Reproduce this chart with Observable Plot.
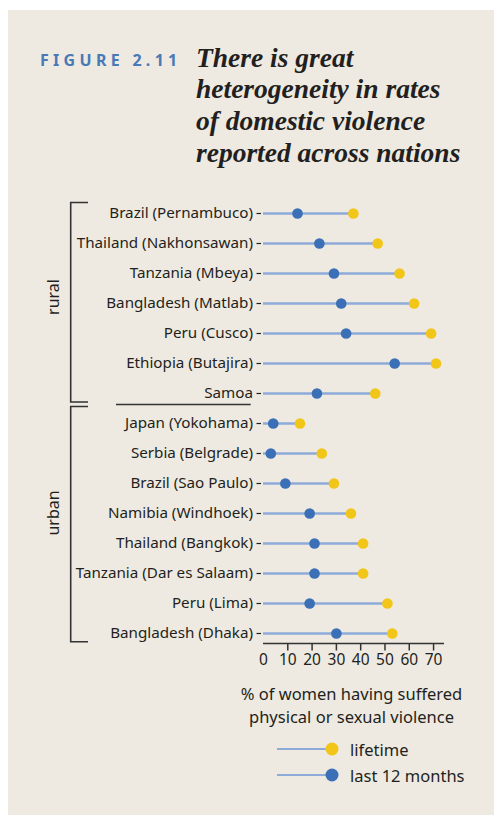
<!DOCTYPE html>
<html>
<head>
<meta charset="utf-8">
<script src="https://cdn.jsdelivr.net/npm/d3@7"></script>
<script src="https://cdn.jsdelivr.net/npm/@observablehq/plot@0.6"></script>
<style>
  html, body { margin: 0; padding: 0; background: #ffffff; }
  #panel { position: absolute; left: 8px; top: 10px; width: 486px; height: 805px; background: #eeeae1; overflow: hidden; }
  #fig { position: absolute; left: 32px; top: 39px; font-family: "Noto Sans", sans-serif; font-weight: 700; font-size: 16px; letter-spacing: 4.3px; color: #4a79b7; white-space: nowrap; }
  #title { position: absolute; left: 188px; top: 31.5px; font-family: "Liberation Serif", serif; font-style: italic; font-weight: 700; font-size: 27.5px; line-height: 31.7px; color: #231f20; white-space: nowrap; }
  #chart { position: absolute; left: 0; top: 180px; }
  #legend { position: absolute; left: 0; top: 672px; width: 486px; font-family: "Noto Sans", sans-serif; font-size: 16.5px; color: #231f20; }
  #legend .cap { position: absolute; left: 200px; width: 287px; text-align: center; line-height: 23px; top: 0; }
  #legend .item { position: absolute; left: 268px; height: 20px; display: flex; align-items: center; white-space: nowrap; }
  #legend .item svg { margin-right: 8px; }
</style>
</head>
<body>
<div id="panel">
  <div id="fig">FIGURE 2.11</div>
  <div id="title">There is great<br>heterogeneity in rates<br>of domestic violence<br>reported across nations</div>
  <div id="chart"></div>
  <div id="legend"></div>
</div>
<script>
// ---- data ----
const ruralSites = ["Brazil (Pernambuco)", "Thailand (Nakhonsawan)", "Tanzania (Mbeya)", "Bangladesh (Matlab)", "Peru (Cusco)", "Ethiopia (Butajira)", "Samoa"];
const urbanSites = ["Japan (Yokohama)", "Serbia (Belgrade)", "Brazil (Sao Paulo)", "Namibia (Windhoek)", "Thailand (Bangkok)", "Tanzania (Dar es Salaam)", "Peru (Lima)", "Bangladesh (Dhaka)"];
const ruralLifetime = [37, 47, 56, 62, 69, 71, 46];
const ruralLast12 = [14, 23, 29, 32, 34, 54, 22];
const urbanLifetime = [15, 24, 29, 36, 41, 41, 51, 53];
const urbanLast12 = [4, 3, 9, 19, 21, 21, 19, 30];
const groupLabels = ["rural", "urban"];
const xTicks = [0, 10, 20, 30, 40, 50, 60, 70];
const xTitle = ["% of women having suffered", "physical or sexual violence"];
const legendLabels = ["lifetime", "last 12 months"];

const sites = [...ruralSites, ...urbanSites];
const data = [
  ...ruralSites.map((s, i) => ({site: s, group: "rural", lifetime: ruralLifetime[i], last12: ruralLast12[i]})),
  ...urbanSites.map((s, i) => ({site: s, group: "urban", lifetime: urbanLifetime[i], last12: urbanLast12[i]}))
];

const colLife = "#f2c619";
const colYear = "#3b6fb6";
const colLine = "#8eaad9";
const ink = "#231f20";
const font = "Noto Sans";

const W = 486, H = 484, mL = 255, mR = 50, mT = 12, mB = 30.5;

function decorations(index, scales) {
  const y = scales.y, x = scales.x;
  const g = d3.create("svg:g");
  const yFirst = y(ruralSites[0]);
  const ySamoa = y(ruralSites[ruralSites.length - 1]);
  const yJapan = y(urbanSites[0]);
  const yLast = y(urbanSites[urbanSites.length - 1]);
  const mid = (ySamoa + yJapan) / 2;
  const bx = 62.7, bx2 = 80;
  const brackets = [[yFirst - 10.5, mid - 6], [mid - 1.5, yLast + 8.7]];
  for (const [a, b] of brackets) {
    g.append("path")
      .attr("d", `M${bx2},${a}H${bx}V${b}H${bx2}`)
      .attr("fill", "none").attr("stroke", "#333").attr("stroke-width", 1.6);
  }
  g.append("line").attr("x1", 108).attr("x2", 242.7).attr("y1", mid - 3.5).attr("y2", mid - 3.5)
    .attr("stroke", "#333").attr("stroke-width", 1.5);
  const ly = [y(ruralSites[3]) - 6, y(urbanSites[3])];
  groupLabels.forEach((t, i) => {
    g.append("text").attr("transform", `translate(51,${ly[i]}) rotate(-90)`)
      .attr("text-anchor", "middle").attr("font-family", font).attr("font-size", 16)
      .attr("fill", ink).text(t);
  });
  // x-axis baseline
  g.append("line").attr("x1", x(0)).attr("x2", x(74.5)).attr("y1", H - mB).attr("y2", H - mB)
    .attr("stroke", "#333").attr("stroke-width", 1.5);
  return g.node();
}

const chart = Plot.plot({
  width: W, height: H,
  marginLeft: mL, marginRight: mR, marginTop: mT, marginBottom: mB,
  style: {background: "transparent", fontFamily: font, fontSize: "15px", color: ink},
  x: {domain: [0, 74.5]},
  y: {type: "point", domain: sites, padding: 0.35},
  marks: [
    Plot.ruleY(data, {y: "site", x1: 0, x2: "lifetime", stroke: colLine, strokeWidth: 2.4}),
    Plot.dot(data, {y: "site", x: "lifetime", r: 5.3, fill: colLife}),
    Plot.dot(data, {y: "site", x: "last12", r: 5.3, fill: colYear}),
    Plot.axisY({tickSize: 4.5, tickPadding: 4, dx: -2, fontSize: 15.2, stroke: ink, strokeWidth: 1.2, label: null, fill: ink}),
    Plot.axisX({ticks: xTicks, tickSize: 0, tickPadding: 10, fontSize: 15.5, label: null, fill: ink}),
    Plot.axisX({ticks: xTicks.slice(1), tickSize: 7, text: null, label: null, stroke: "#333", strokeWidth: 1.5}),
    decorations
  ]
});
document.getElementById("chart").appendChild(chart);

// legend
const leg = document.getElementById("legend");
leg.innerHTML = `<div class="cap">${xTitle.join("<br>")}</div>`;
[colLife, colYear].forEach((c, i) => {
  const d = document.createElement("div");
  d.className = "item";
  d.style.top = (57 + i * 26) + "px";
  d.innerHTML = `<svg width="66" height="14"><line x1="1" x2="56" y1="7" y2="7" stroke="${colLine}" stroke-width="2.2"/><circle cx="56" cy="7" r="6.5" fill="${c}"/></svg><span>${legendLabels[i]}</span>`;
  leg.appendChild(d);
});
</script>
</body>
</html>
